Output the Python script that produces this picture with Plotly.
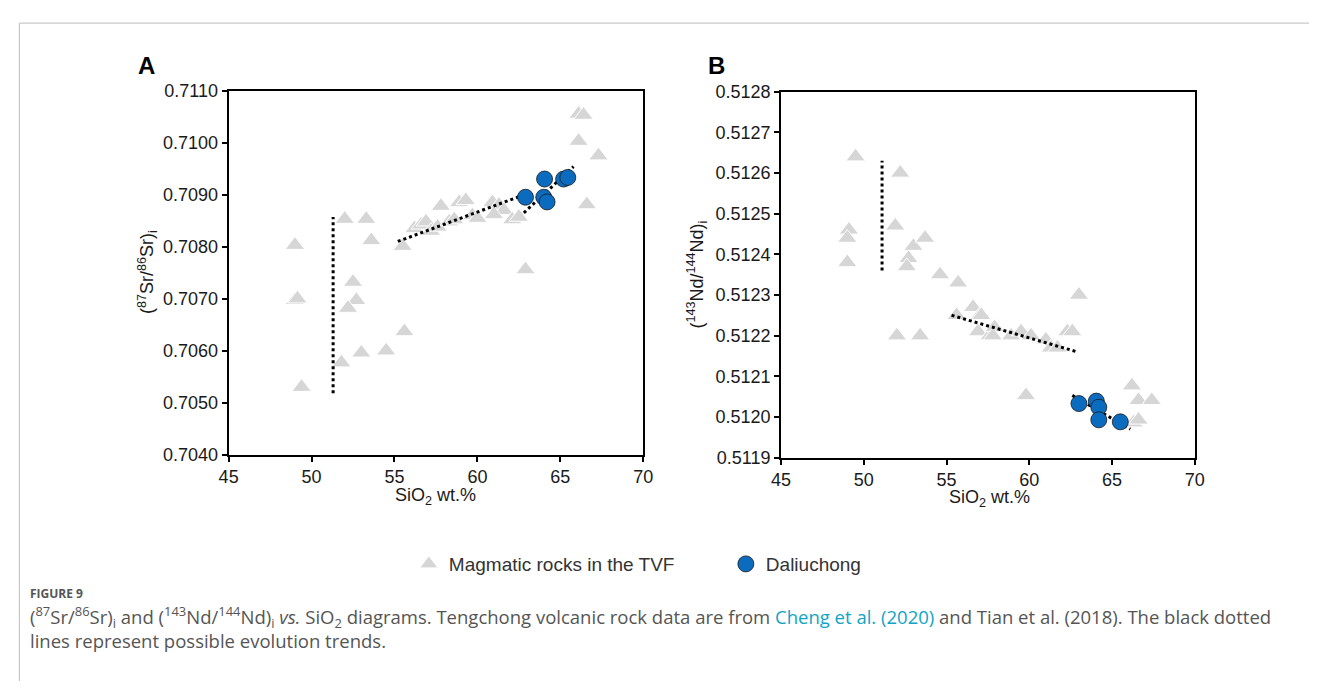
import plotly.graph_objects as go

# Figure canvas (all page positions below are given in pixels from the top-left)
W, H = 1319, 691

# ---- Panel A: (87Sr/86Sr)i vs SiO2 ----
tvf_sio2_a = [49.0, 49.0, 49.15, 49.4, 52.0, 53.3, 53.6, 52.5, 52.7, 52.2, 51.8, 53.0,
              54.5, 55.6, 55.5, 56.2, 56.6, 56.9, 57.2, 57.6, 57.8, 58.3, 58.6, 58.9,
              59.3, 59.7, 60.0, 60.9, 61.3, 61.6, 61.0, 62.1, 62.5, 62.9, 66.1, 66.4,
              66.1, 67.3, 66.6]
tvf_sr_a = [0.70803, 0.70697, 0.70700, 0.70530, 0.70853, 0.70853, 0.70812, 0.70732,
            0.70697, 0.70682, 0.70577, 0.70596, 0.70600, 0.70637, 0.70801, 0.70835,
            0.70842, 0.70848, 0.70830, 0.70838, 0.70878, 0.70848, 0.70852, 0.70885,
            0.70889, 0.70860, 0.70855, 0.70885, 0.70880, 0.70870, 0.70862, 0.70852,
            0.70857, 0.70756, 0.71055, 0.71053, 0.71003, 0.70975, 0.70881]
dlc_sio2_a = [62.9, 64.05, 64.0, 64.2, 65.2, 65.45]
dlc_sr_a = [0.70895, 0.70930, 0.70895, 0.70886, 0.70930, 0.70933]

trend_a = [
    ([51.3, 51.3], [0.70518, 0.70857]),
    ([55.2, 62.5], [0.70810, 0.70896]),
    ([62.8, 65.8], [0.70865, 0.70954]),
]

# ---- Panel B: (143Nd/144Nd)i vs SiO2 ----
tvf_sio2_b = [49.5, 52.2, 49.1, 49.0, 49.0, 51.9, 53.0, 53.7, 52.7, 52.6, 54.6, 55.7,
              52.0, 53.4, 55.6, 56.6, 57.0, 56.9, 57.6, 57.1, 57.9, 57.8, 58.9, 59.5,
              60.1, 61.0, 61.3, 61.7, 62.3, 62.6, 63.0, 59.8, 66.2, 66.6, 67.4, 66.3,
              66.6]
tvf_nd_b = [0.51264, 0.51260, 0.51246, 0.51244, 0.51238, 0.51247, 0.51242, 0.51244,
            0.51239, 0.51237, 0.51235, 0.51233, 0.51220, 0.51220, 0.51225, 0.51227,
            0.51225, 0.51221, 0.51220, 0.51225, 0.51222, 0.51220, 0.51220, 0.51221,
            0.51220, 0.51219, 0.51217, 0.51217, 0.51221, 0.51221, 0.51230, 0.512053,
            0.512077, 0.512041, 0.512041, 0.511986, 0.511993]
dlc_sio2_b = [63.0, 64.05, 64.2, 64.2, 65.5]
dlc_nd_b = [0.512033, 0.512039, 0.512024, 0.511993, 0.511988]

trend_b = [
    ([51.1, 51.1], [0.51236, 0.51263]),
    ([55.3, 62.9], [0.51225, 0.51216]),
    ([62.6, 66.1], [0.512053, 0.511970]),
]

x_ticks = [45, 50, 55, 60, 65, 70]

TRI_COLOR = "#d6d6d6"
DOT_COLOR = "#0b6bbf"
FONT = "Liberation Sans, Arial, sans-serif"


def fx(px):
    return px / W


def fy(py):
    return 1 - py / H


fig = go.Figure()


def add_panel(xa, ya, tx, ty, dx, dy, trends, show_legend):
    fig.add_trace(go.Scatter(
        x=tx, y=ty, mode="markers", xaxis=xa, yaxis=ya,
        name="Magmatic rocks in the TVF", showlegend=show_legend,
        marker=dict(symbol="triangle-up", size=17, color=TRI_COLOR,
                    line=dict(color="white", width=1)),
    ))
    for lx, ly in trends:
        fig.add_trace(go.Scatter(
            x=lx, y=ly, mode="lines", xaxis=xa, yaxis=ya, showlegend=False,
            line=dict(color="black", width=3, dash="dot"), hoverinfo="skip",
        ))
    fig.add_trace(go.Scatter(
        x=dx, y=dy, mode="markers", xaxis=xa, yaxis=ya,
        name="Daliuchong", showlegend=show_legend,
        marker=dict(symbol="circle", size=16, color=DOT_COLOR,
                    line=dict(color="#1a1a1a", width=0.8)),
    ))


add_panel("x", "y", tvf_sio2_a, tvf_sr_a, dlc_sio2_a, dlc_sr_a, trend_a, True)
add_panel("x2", "y2", tvf_sio2_b, tvf_nd_b, dlc_sio2_b, dlc_nd_b, trend_b, False)

axis_common = dict(
    showline=True, linecolor="black", linewidth=2, mirror=True,
    ticks="outside", ticklen=5, tickwidth=1.5, tickcolor="black",
    showgrid=False, zeroline=False,
    tickfont=dict(family=FONT, size=18, color="#1a1a1a"),
)

fig.update_layout(
    width=W, height=H,
    margin=dict(l=0, r=0, t=0, b=0),
    paper_bgcolor="white", plot_bgcolor="white",
    xaxis=dict(domain=[fx(222), fx(643)], range=[45, 70], tickvals=x_ticks,
               anchor="y", **axis_common),
    yaxis=dict(domain=[fy(458), fy(83)], range=[0.7040, 0.7110], dtick=0.001,
               tick0=0.7040, tickformat=".4f", anchor="x", **axis_common),
    xaxis2=dict(domain=[fx(783), fx(1203)], range=[45, 70], tickvals=x_ticks,
                anchor="y2", **axis_common),
    yaxis2=dict(domain=[fy(461), fy(84)], range=[0.5119, 0.5128], dtick=0.0001,
                tick0=0.5119, tickformat=".4f", anchor="x2", **axis_common),
    showlegend=True,
    legend=dict(orientation="h", x=fx(405), y=fy(551), xanchor="left", yanchor="top",
                entrywidth=272, entrywidthmode="pixels",
                font=dict(family=FONT, size=19, color="#333333"),
                bgcolor="rgba(0,0,0,0)", itemclick=False),
)

# page frame
fig.add_shape(type="line", xref="paper", yref="paper", x0=fx(9.5), x1=fx(9.5), y0=0,
              y1=fy(13.5), line=dict(color="#bdbdbd", width=1))
fig.add_shape(type="line", xref="paper", yref="paper", x0=fx(9.5), x1=1, y0=fy(13.5),
              y1=fy(13.5), line=dict(color="#bdbdbd", width=1))


def note(text, px, py, size, color="#1a1a1a", xanchor="center", family=FONT, angle=0):
    fig.add_annotation(text=text, x=fx(px), y=fy(py), xref="paper", yref="paper",
                       showarrow=False, xanchor=xanchor, yanchor="middle",
                       textangle=angle, align="left",
                       font=dict(family=family, size=size, color=color))


note("<b>A</b>", 139, 57, 24, "black")
note("<b>B</b>", 717, 57, 24, "black")
note("SiO<sub>2</sub> wt.%", 432, 501, 18)
note("SiO<sub>2</sub> wt.%", 995, 503, 18)
note("(<sup>87</sup>Sr/<sup>86</sup>Sr)<sub>i</sub>", 139, 270, 18, angle=-90)
note("(<sup>143</sup>Nd/<sup>144</sup>Nd)<sub>i</sub>", 697, 272, 18, angle=-90)

CAP = "Open Sans, Noto Sans, sans-serif"
note("<b>FIGURE 9</b>", 18, 601, 12, "#555555", xanchor="left", family=CAP)
note("(<sup>87</sup>Sr/<sup>86</sup>Sr)<sub>i</sub> and (<sup>143</sup>Nd/<sup>144</sup>Nd)<sub>i</sub> "
     "<i>vs.</i> SiO<sub>2</sub> diagrams. Tengchong volcanic rock data are from "
     "<span style='color:#11a4c4'>Cheng et al. (2020)</span> and Tian et al. (2018). "
     "The black dotted", 18, 625, 18.5, "#555555", xanchor="left", family=CAP)
note("lines represent possible evolution trends.", 18, 649, 18.5, "#555555",
     xanchor="left", family=CAP)

fig.write_html("out.html")
